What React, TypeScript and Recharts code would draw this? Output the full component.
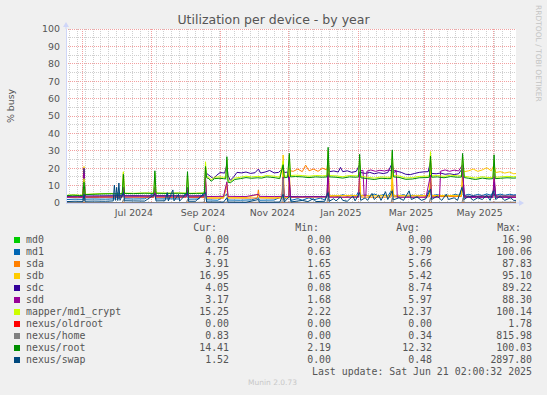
import React from 'react';
import { LineChart, Line, XAxis, YAxis, CartesianGrid, ReferenceDot } from 'recharts';

type Pt = [number, number];

// x = days since 2024-05-17, y = % busy
const md0: Pt[] = [[0, 0], [400, 0]];
const oldroot: Pt[] = [[0, 0], [400, 0]];
const home: Pt[] = [[0,0.3],[15,0.3],[16,3],[17,0.3],[50,0.3],[51,2],[52,0.3],[107,0.3],[108,2],[109,0.3],[123,0.4],[124,9],[125,0.4],[192,0.4],[193,14],[194,0.4],[232,0.3],[233,4],[234,0.3],[289,0.3],[290,3],[291,0.3],[323,0.3],[324,3],[325,0.3],[352,0.3],[353,3],[354,0.3],[399,0.5],[400,0.83]];
const swap: Pt[] = [[0,0.8],[8,1.0],[15,0.9],[16,5],[17,1],[25,1.1],[35,1.0],[42,1.2],[43,10.3],[44,1.5],[45,9],[46,1.4],[47,11.5],[48,1.5],[51,6],[52,1.3],[60,1.2],[70,1.1],[79,5],[80,1.2],[88,1.3],[90,6],[91,1.2],[95,7.5],[96,1.2],[100,5],[101,1.1],[108,6],[109,1.0],[115,1.0],[124,6],[125,0.6],[140,0.5],[143,3],[144,0.5],[160,0.4],[171,2],[172,0.4],[190,0.5],[193,5],[194,0.5],[199,4],[200,0.6],[210,1.5],[215,0.8],[220,2.5],[222,0.8],[230,1.0],[233,6],[234,1.0],[238,2.5],[240,1.2],[244,3.5],[246,1.5],[250,1.0],[255,4],[257,1.2],[261,6],[262,1.5],[266,3],[268,1.5],[272,5.5],[274,2],[278,4.5],[280,1.5],[284,6.5],[286,2],[290,7],[291,1.8],[296,3],[300,1.5],[305,7],[307,2],[312,3.5],[316,1.5],[320,2.5],[324,8],[325,2],[330,4],[334,1.5],[338,5],[340,2],[345,3],[348,1.5],[352,9],[354,2],[358,4],[362,1.5],[366,3],[370,2],[374,4.5],[377,1.5],[380,7],[382,2],[386,4],[390,1.5],[395,3],[398,1.5],[400,1.5]];
const md1: Pt[] = [[0,2.0],[8,2.2],[15,2.1],[16,8],[17,2.2],[25,2.3],[35,2.2],[44,2.4],[46,6],[47,2.4],[51,7],[52,2.4],[60,2.3],[70,2.4],[79,6],[80,2.3],[92,2.4],[100,2.3],[108,6],[109,2.2],[118,2.3],[124,7],[125,1.8],[135,1.6],[143,5],[144,1.7],[155,1.6],[165,1.8],[171,3],[172,1.6],[185,1.7],[193,4],[194,1.7],[199,5],[200,1.5],[206,2.5],[210,1.6],[216,3],[220,1.8],[226,2.8],[230,1.8],[233,7],[234,3.5],[238,4.2],[242,3.6],[246,4.8],[250,3.8],[254,4.5],[258,3.9],[261,8],[262,4],[266,4.6],[270,3.8],[274,5.2],[278,4],[282,4.8],[286,3.9],[290,8],[291,4.2],[295,3.8],[300,4.8],[304,3.7],[308,4.5],[312,3.8],[316,4.6],[320,3.9],[324,9],[325,4.2],[330,4.8],[334,3.8],[338,4.6],[342,4],[346,5],[350,4.2],[352.5,10],[354,4.3],[358,5],[362,4.2],[366,4.9],[370,4.3],[374,5.2],[378,4.4],[380.5,8],[382,4.5],[386,5.1],[390,4.4],[394,5],[398,4.6],[400,4.75]];
const sda: Pt[] = [[0,3.2],[10,3.1],[15,3.2],[16,14],[17,3.1],[30,3.2],[45,3.3],[50,3.2],[51,9],[52,3.3],[65,3.3],[78,3.2],[79,8],[80,3.3],[95,3.2],[107,3.3],[108,8],[109,3.2],[123,3.1],[124,12],[125,2.8],[140,2.8],[143,10],[144,2.9],[160,2.8],[170,2.9],[171,7.5],[172,2.9],[185,2.8],[192,2.9],[193,12],[194,3],[198,3],[198.5,20],[199.5,18.5],[202,18.2],[206,19.5],[210,18],[213,21.8],[216,18.5],[220,19.5],[224,18.2],[228,20],[232,19],[233,26],[234,3.8],[240,3.5],[250,3.4],[260,3.4],[261,12],[262,3.4],[275,3.3],[289,3.4],[290,14],[291,3.5],[305,3.4],[323,3.5],[324,12],[325,3.6],[340,3.7],[351.5,3.7],[352.5,15],[354,3.8],[365,3.8],[379.5,3.8],[380.5,14],[382,3.9],[400,3.91]];
const sdb: Pt[] = [[0,3.5],[10,3.6],[15,3.5],[16,21],[17,3.6],[30,3.7],[45,3.8],[50,3.8],[51,17.5],[52,3.9],[65,4.0],[78,4.0],[79,9],[80,4.0],[95,4.1],[107,4.0],[108,9],[109,3.9],[123,3.8],[124,14],[125,3.0],[140,3.0],[143,12],[144,3.0],[160,3.1],[171,5],[172,3.1],[185,3.0],[192,3.2],[193,27.6],[194,3.4],[198,3.3],[198.5,18],[199.5,3.2],[215,3.3],[232,3.5],[233,20],[234,4.2],[245,4.3],[260,4.3],[261,15],[262,4.3],[275,4.2],[289,4.2],[290,18],[291,4.3],[305,4.2],[323,4.3],[324,22],[325,4.3],[340,4.3],[351.5,4.4],[352.5,20],[354,18],[358,18.5],[362,19.5],[366,18.2],[370,19],[374,20.3],[378,18.5],[380.5,22],[382,17.5],[386,18],[390,17.2],[394,17.8],[398,16.8],[400,16.95]];
const sdc: Pt[] = [[0,3.8],[10,3.9],[15,3.8],[16,20],[17,4.0],[30,4.1],[45,4.2],[50,4.1],[51,9],[52,4.2],[65,4.2],[78,4.1],[79,9],[80,4.2],[95,4.2],[107,4.1],[108,9],[109,4.1],[123,4.2],[124,19],[125,17],[128,15.5],[131,14],[134,16],[137,17.5],[141,17.2],[143,22],[144,16],[146,13],[149,15],[152,17.6],[156,17.3],[160,17.8],[164,17],[168,17.4],[171,19.5],[173,17.2],[177,17.8],[181,18.7],[185,17.3],[189,17.6],[193,20],[194,17.5],[197,17.8],[198.5,12],[199.5,3.7],[210,3.6],[220,3.7],[232,3.6],[233,24],[234,18],[238,18.4],[242,17.8],[244,20.5],[246,18],[250,18.5],[254,17.6],[258,18.2],[261,22],[262,17.5],[266,17],[270,17.6],[274,16.8],[278,17.4],[282,16.9],[286,17.5],[290,23],[291,17.5],[294,18.3],[298,17.6],[302,16.5],[306,16.3],[310,17],[314,17.6],[318,17.9],[322,18],[324,24],[325,17],[329,16.8],[333,17.2],[337,16.5],[341,16.8],[345,16.3],[349,16.8],[352.5,20],[354,4],[360,3.8],[370,3.9],[379.5,3.9],[380.5,12],[382,4],[390,3.9],[400,4.05]];
const sdd: Pt[] = [[0,3.3],[10,3.4],[15,3.3],[16,17],[17,3.4],[30,3.5],[45,3.5],[50,3.5],[51,9],[52,3.5],[65,3.6],[78,3.5],[79,8],[80,3.6],[95,3.6],[107,3.5],[108,8],[109,3.5],[123,3.6],[124,15],[125,3.7],[140,3.8],[143,12],[144,3.8],[160,3.7],[171,5],[172,3.8],[185,3.7],[192,3.8],[193,15],[194,3.8],[198,3.7],[198.5,15],[199.5,3.4],[215,3.5],[232,3.5],[233,17],[234,3.3],[245,3.3],[260,3.4],[261,18],[262,18.5],[264,18.8],[265,4],[266.5,4],[267.5,18.3],[271,19],[275,18.2],[279,18.8],[283,18.4],[287,19],[289,18.5],[290,22],[291,18.5],[293.5,18.8],[294.5,3.3],[305,3.3],[320,3.3],[324,16],[325,3.3],[332,3.3],[333,18.3],[337,19],[341,18.2],[345,18.9],[349,18.4],[352.5,22],[354,3.2],[365,3.2],[379.5,3.2],[380.5,17],[382,3.2],[400,3.17]];
const crypt: Pt[] = [[0,4.4],[6,4.7],[12,4.5],[15,4.6],[16,14],[17,5.0],[24,5.2],[32,5.4],[40,5.5],[48,5.4],[50,5.6],[51,18],[52,5.7],[60,5.6],[70,5.8],[78,5.7],[79,17],[80,5.8],[90,5.7],[100,5.8],[107,5.7],[108,16.5],[109,5.6],[116,5.7],[123,5.8],[124,23.7],[125,15.3],[127,14.8],[129,13.3],[132,14.8],[136,15],[140,14.8],[142,14.6],[143,25],[144,12.8],[146,12.4],[150,14.3],[155,14.8],[160,15.4],[165,15],[170,15.3],[174,15.1],[178,15.8],[182,15.6],[186,15.3],[190,14.8],[193,24],[194,15.3],[197,15.6],[198.5,27],[199.5,15.8],[204,16],[210,15.8],[216,15.4],[222,15.8],[228,15.6],[232,15.8],[233,30],[234,15.8],[240,15.6],[246,15.1],[252,15.8],[258,15.6],[260,15.8],[261,26],[262,15.3],[268,14.8],[274,14.3],[280,15],[286,14.8],[289,14.8],[290,29],[291,15.8],[296,15.5],[302,14.4],[308,14.6],[314,15.3],[320,15.4],[323,15.6],[324,29.5],[325,15.6],[330,15.8],[336,15.3],[342,16],[348,15.6],[351.5,15.7],[352.5,27],[354,15.4],[358,15],[364,14.3],[370,15.1],[376,14.6],[379.5,14.8],[380.5,25],[381.5,14.8],[386,15],[392,15.3],[398,15.1],[400,15.25]];
const root: Pt[] = [[0,4.2],[6,4.5],[12,4.3],[15,4.4],[16,12],[17,4.8],[24,5.0],[32,5.2],[40,5.3],[48,5.2],[50,5.4],[51,16.5],[52,5.5],[60,5.4],[70,5.6],[78,5.5],[79,18.5],[80,5.6],[90,5.5],[100,5.6],[107,5.5],[108,18],[109,5.4],[116,5.5],[123,5.6],[124,21],[125,14.5],[127,14],[129,12.5],[132,14],[136,14.2],[140,14],[142,13.8],[143,26.6],[144,12],[146,11.6],[150,13.5],[155,14],[160,14.6],[165,14.2],[170,14.5],[174,14.3],[178,15],[182,14.8],[186,14.5],[190,14],[193,22],[194,14.5],[197,14.8],[198.5,28.5],[199.5,15],[204,15.2],[210,15],[216,14.6],[222,15],[228,14.8],[232,15],[233,32],[234,15],[240,14.8],[246,14.3],[252,15],[258,14.8],[260,15],[261,28],[262,14.5],[268,14],[274,13.5],[280,14.2],[286,14],[289,14],[290,30.5],[291,15],[296,14.7],[302,13.6],[308,13.8],[314,14.5],[320,14.6],[323,14.8],[324,27],[325,14.8],[330,15],[336,14.5],[342,15.2],[348,14.8],[351.5,14.9],[352.5,28.5],[354,14.6],[358,14.2],[364,13.5],[370,14.3],[376,13.8],[379.5,14],[380.5,27.7],[381.5,14],[386,14.2],[392,14.5],[398,14.3],[400,14.41]];

const seriesNames = ['md0','md1','sda','sdb','sdc','sdd','mapper/md1_crypt','nexus/oldroot','nexus/home','nexus/root','nexus/swap'];
const seriesColors = ['#00CC00','#0066B3','#FF8000','#FFCC00','#330099','#990099','#CCFF00','#FF0000','#808080','#008F00','#00487D'];
const seriesPoints = [md0, md1, sda, sdb, sdc, sdd, crypt, oldroot, home, root, swap];
const curVals = ['0.00','4.75','3.91','16.95','4.05','3.17','15.25','0.00','0.83','14.41','1.52'];
const minVals = ['0.00','0.63','1.65','1.65','0.08','1.68','2.22','0.00','0.00','2.19','0.00'];
const avgVals = ['0.00','3.79','5.66','5.42','8.74','5.97','12.37','0.00','0.34','12.32','0.48'];
const maxVals = ['16.90','100.06','87.83','95.10','89.22','88.30','100.14','1.78','815.98','100.03','2897.80'];

const xTickDays = [60.4, 121.8, 183.5, 244.3, 306.7, 367.6];
const xTickLabels = ['Jul 2024', 'Sep 2024', 'Nov 2024', 'Jan 2025', 'Mar 2025', 'May 2025'];
const yTicks = [0, 10, 20, 30, 40, 50, 60, 70, 80, 90, 100];
const yMinor = [5, 15, 25, 35, 45, 55, 65, 75, 85, 95];
const monthGridDays = [15, 76, 137, 198, 260, 319, 380];
const weekGridDays = Array.from({ length: 57 }, (_, i) => 3 + i * 7);

const SANS = '"DejaVu Sans", sans-serif';
const MONO = '"DejaVu Sans Mono", monospace';
const AXIS = '#CFD6F8';
const TXT = '#555';

const XArrow = (p: any) => (
  <g>
    <line x1={p.cx} y1={p.cy} x2={p.cx + 3} y2={p.cy} stroke={AXIS} strokeWidth={1} />
    <path d={`M${p.cx + 3} ${p.cy - 3} L${p.cx + 8} ${p.cy} L${p.cx + 3} ${p.cy + 3} Z`} fill={AXIS} />
  </g>
);
const YArrow = (p: any) => (
  <g>
    <line x1={p.cx} y1={p.cy} x2={p.cx} y2={p.cy - 2} stroke={AXIS} strokeWidth={1} />
    <path d={`M${p.cx - 3} ${p.cy - 2} L${p.cx} ${p.cy - 7} L${p.cx + 3} ${p.cy - 2} Z`} fill={AXIS} />
  </g>
);

const abs = (s: React.CSSProperties): React.CSSProperties => ({ position: 'absolute', whiteSpace: 'pre', ...s });

export default function App() {
  const rowTop = (i: number) => 240 + 12 * i - 6;
  return (
    <div style={{ position: 'absolute', left: 0, top: 0, width: 547, height: 395, background: '#F0F0F0', overflow: 'hidden' }}>
      <LineChart width={547} height={395} margin={{ top: 29, right: 31, bottom: 172, left: 6 }}>
        <CartesianGrid fill="#FFFFFF" stroke="#CFCFCF" strokeDasharray="1 1" shapeRendering="crispEdges" horizontalValues={yMinor} verticalValues={weekGridDays} />
        <CartesianGrid stroke="#F2A0A0" strokeDasharray="1 1" shapeRendering="crispEdges" horizontalValues={yTicks.slice(1)} verticalValues={monthGridDays} />
        <XAxis
          type="number"
          dataKey="d"
          domain={[0, 400]}
          ticks={xTickDays}
          interval={0}
          allowDataOverflow
          height={20}
          tickSize={0}
          tickMargin={6}
          tickLine={false}
          axisLine={{ stroke: AXIS, shapeRendering: 'crispEdges' }}
          tickFormatter={(v: number) => xTickLabels[xTickDays.indexOf(v)] ?? ''}
          tick={{ fill: TXT, fontSize: 9.4, fontFamily: SANS }}
        />
        <YAxis
          type="number"
          domain={[0, 100]}
          ticks={yTicks}
          interval={0}
          allowDataOverflow
          width={60}
          tickSize={0}
          tickMargin={6}
          tickLine={false}
          axisLine={{ stroke: AXIS, shapeRendering: 'crispEdges' }}
          tick={{ fill: TXT, fontSize: 9.4, fontFamily: SANS }}
        />
        {seriesPoints.map((pts, i) => (
          <Line
            key={seriesNames[i]}
            data={pts.map(([d, v]) => ({ d, v }))}
            dataKey="v"
            name={seriesNames[i]}
            type="linear"
            stroke={seriesColors[i]}
            strokeWidth={1}
            dot={false}
            activeDot={false}
            isAnimationActive={false}
          />
        ))}
        <ReferenceDot x={400} y={0} r={0} shape={XArrow} ifOverflow="visible" />
        <ReferenceDot x={0} y={100} r={0} shape={YArrow} ifOverflow="visible" />
      </LineChart>

      <div style={abs({ left: 0, width: 547, top: 11.5, lineHeight: '15px', textAlign: 'center', fontFamily: SANS, fontSize: 12.5, color: TXT })}>
        Utilization per device - by year
      </div>
      <div style={abs({ left: 11, top: 106, fontFamily: SANS, fontSize: 9.4, color: TXT, lineHeight: '12px', transform: 'translate(-50%, -50%) rotate(-90deg)' })}>
        % busy
      </div>
      <div style={abs({ left: 538, top: 5, fontFamily: SANS, fontSize: 7.5, color: '#C4C4C4', lineHeight: '9px', transformOrigin: '0 0', transform: 'translate(4.5px, 0) rotate(90deg)' })}>
        RRDTOOL / TOBI OETIKER
      </div>

      {[['Cur:', 217], ['Min:', 319], ['Avg:', 420], ['Max:', 521]].map(([t, r]) => (
        <div key={t as string} style={abs({ left: (r as number) - 100, width: 100, top: 222, lineHeight: '12px', textAlign: 'right', fontFamily: MONO, fontSize: 9.9, color: TXT })}>{t}</div>
      ))}
      {seriesNames.map((n, i) => (
        <React.Fragment key={n}>
          <div style={abs({ left: 14, top: rowTop(i) + 3, width: 6, height: 6, background: seriesColors[i] })} />
          <div style={abs({ left: 26, top: rowTop(i), lineHeight: '12px', fontFamily: MONO, fontSize: 9.9, color: TXT })}>{n}</div>
          {[[curVals, 229], [minVals, 331], [avgVals, 432], [maxVals, 532]].map(([vals, r], k) => (
            <div key={k} style={abs({ left: (r as number) - 100, width: 100, top: rowTop(i), lineHeight: '12px', textAlign: 'right', fontFamily: MONO, fontSize: 9.9, color: TXT })}>
              {(vals as string[])[i]}
            </div>
          ))}
        </React.Fragment>
      ))}
      <div style={abs({ left: 232, width: 300, top: rowTop(11), lineHeight: '12px', textAlign: 'right', fontFamily: MONO, fontSize: 9.9, color: TXT })}>
        Last update: Sat Jun 21 02:00:32 2025
      </div>
      <div style={abs({ left: 0, width: 545, top: 378, lineHeight: '10px', textAlign: 'center', fontFamily: SANS, fontSize: 7.5, color: '#C8C8C8' })}>
        Munin 2.0.73
      </div>
    </div>
  );
}
